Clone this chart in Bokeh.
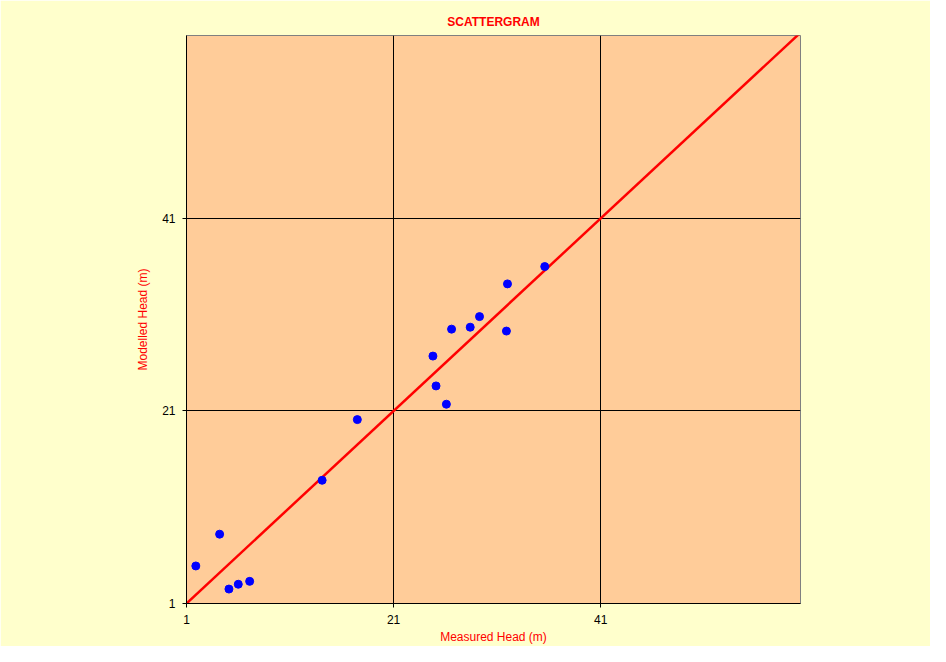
from bokeh.plotting import figure
from bokeh.models import Range1d, FixedTicker
from bokeh.embed import file_html
from bokeh.resources import INLINE

# Data
measured = [1.9, 4.2, 5.1, 6.0, 7.1, 14.1, 17.5, 24.8, 25.1, 26.1, 26.6, 28.4, 29.3, 31.9, 32.0, 35.6]
modelled = [4.9, 8.2, 2.5, 3.0, 3.3, 13.8, 20.1, 26.7, 23.6, 21.7, 29.5, 29.7, 30.8, 29.3, 34.2, 36.0]
line_x = [0, 61]
line_y = [0, 61]
ticks = [1, 21, 41]

FONT = "Liberation Sans"

p = figure(width=930, height=646, output_backend="svg", toolbar_location=None,
           x_range=Range1d(1, 60.3), y_range=Range1d(1, 60.0),
           min_border_left=186, min_border_right=130, min_border_top=35, min_border_bottom=42)

p.background_fill_color = "#FFCC99"
p.border_fill_color = "#FFFFCC"
p.outline_line_color = "#808080"
p.outline_line_width = 1

p.title.text = "SCATTERGRAM"
p.title.text_color = "#FF0000"
p.title.text_font = FONT
p.title.text_font_size = "12px"
p.title.text_font_style = "bold"
p.title.align = "center"
p.title.standoff = 14

for ax in (p.xaxis[0], p.yaxis[0]):
    ax.ticker = FixedTicker(ticks=ticks)
    ax.minor_tick_line_color = None
    ax.major_tick_in = 0
    ax.major_tick_out = 4
    ax.major_tick_line_color = "black"
    ax.axis_line_color = "black"
    ax.major_label_text_font = FONT
    ax.major_label_text_font_size = "12px"
    ax.major_label_text_color = "black"
    ax.axis_label_text_font = FONT
    ax.axis_label_text_font_size = "12px"
    ax.axis_label_text_font_style = "normal"
    ax.axis_label_text_color = "#FF0000"

p.xaxis.major_label_standoff = 7
p.xaxis.axis_label = "Measured Head (m)"
p.xaxis.axis_label_standoff = 3
p.yaxis.major_label_standoff = 7
p.yaxis.axis_label = "Modelled Head (m)"
p.yaxis.axis_label_standoff = 9

p.xgrid.ticker = FixedTicker(ticks=ticks)
p.ygrid.ticker = FixedTicker(ticks=ticks)
p.grid.grid_line_color = "black"
p.grid.grid_line_width = 1
p.grid.grid_line_alpha = 1.0

p.line(line_x, line_y, line_color="#FF0000", line_width=2.5)
p.scatter(measured, modelled, size=8, fill_color="#0000FF", line_color="#0000FF", marker="circle")

open("out.html", "w").write(file_html(p, INLINE))
